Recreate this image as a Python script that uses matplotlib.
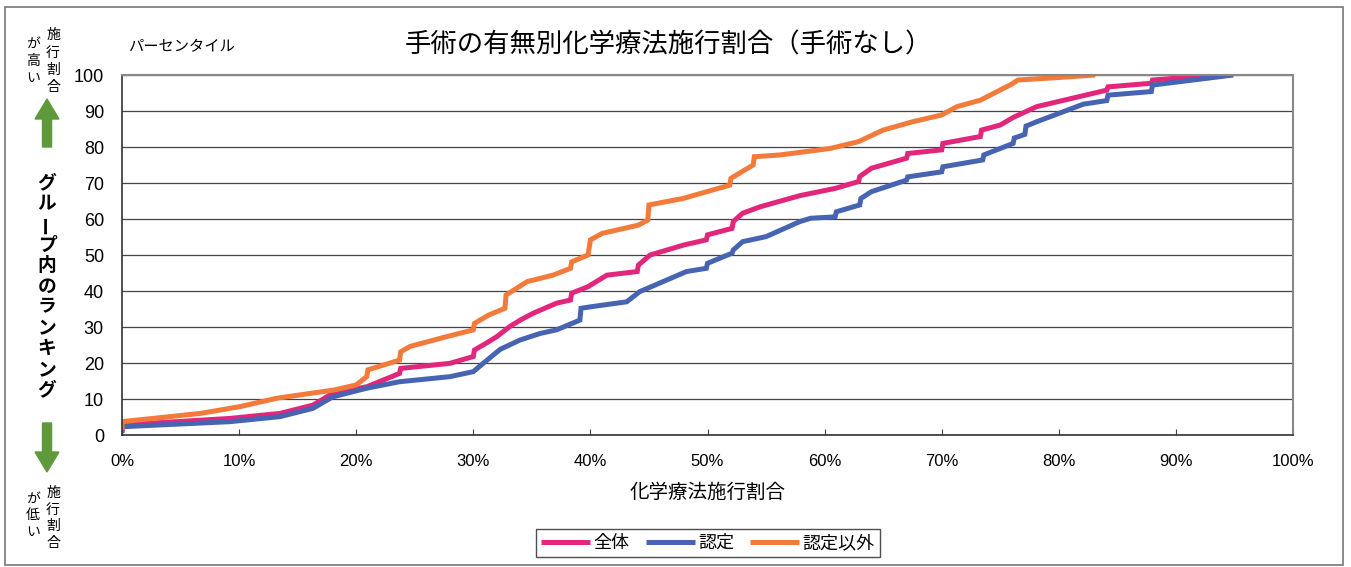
import matplotlib
matplotlib.use('Agg')
import matplotlib.pyplot as plt
from matplotlib.patches import Rectangle, FancyArrow

plt.rcParams['font.family'] = ['Noto Sans CJK JP', 'DejaVu Sans']

title = '手術の有無別化学療法施行割合（手術なし）'
xlabel = '化学療法施行割合'
series_names = ['全体', '認定', '認定以外']
colors = ['#E2267C', '#4664B2', '#F27A3A']

# 全体
all_x = [0, 0, 9.2, 13.5, 16.3, 18.0, 20.9, 23.7, 23.8, 28.0, 30.0, 30.1, 31.1, 32.0, 33.1, 34.0,
         35.1, 37.1, 38.3, 38.4, 39.8, 41.4, 44.0, 44.1, 45.1, 48.0, 49.9, 50.0, 52.1, 52.2, 53.0,
         54.5, 57.9, 60.9, 62.9, 63.0, 64.0, 67.0, 67.1, 70.0, 70.1, 73.3, 73.4, 75.0, 76.1, 77.5,
         78.1, 84.1, 84.2, 87.9, 88.0, 93.5]
all_y = [0.9, 2.8, 4.6, 6.0, 8.3, 11.6, 13.4, 17.1, 18.5, 19.9, 21.8, 23.6, 25.5, 27.3, 30.1, 31.9,
         33.8, 36.6, 37.5, 39.4, 41.2, 44.4, 45.4, 47.2, 50.0, 52.8, 54.2, 55.6, 57.4, 59.3, 61.6,
         63.4, 66.5, 68.5, 70.4, 71.8, 74.1, 76.9, 78.2, 79.2, 81.0, 82.9, 84.7, 86.1, 88.2, 90.3,
         91.2, 95.8, 96.7, 97.7, 98.6, 100]

# 認定
nin_x = [0, 0, 9.2, 13.5, 16.3, 18.0, 20.9, 23.7, 28.0, 30.0, 31.1, 32.3, 34.0, 35.7, 37.1, 39.1,
         39.2, 40.0, 43.1, 44.2, 48.2, 49.9, 50.0, 52.1, 52.2, 53.0, 55.0, 57.9, 58.8, 60.9, 61.0,
         63.0, 63.1, 64.0, 67.0, 67.1, 70.0, 70.1, 73.5, 73.6, 76.1, 76.2, 77.1, 77.2, 78.1, 82.1,
         84.1, 84.2, 87.9, 88.0, 94.9]
nin_y = [0.5, 2.3, 3.7, 5.1, 7.4, 10.6, 13.0, 14.8, 16.2, 17.6, 20.6, 23.8, 26.4, 28.2, 29.2, 31.9,
         35.2, 35.6, 37.0, 39.8, 45.4, 46.3, 47.7, 50.5, 51.4, 53.7, 55.1, 59.3, 60.2, 60.6, 62.0,
         63.9, 65.7, 67.6, 70.8, 71.7, 73.1, 74.5, 76.4, 77.8, 81.0, 82.5, 83.5, 85.8, 87.0, 91.9,
         92.9, 94.4, 95.4, 97.2, 100]

# 認定以外
oth_x = [0, 0, 6.7, 10.1, 13.2, 18.1, 20.0, 20.9, 21.0, 22.3, 23.7, 23.8, 24.6, 27.7, 30.0, 30.1,
         31.3, 32.7, 32.8, 34.6, 36.8, 38.3, 38.4, 39.8, 40.0, 41.0, 44.1, 44.9, 45.0, 47.9, 51.9,
         52.0, 53.9, 54.0, 56.2, 60.5, 62.9, 65.0, 67.5, 70.0, 71.3, 73.3, 76.0, 76.5, 80.0, 83.1]
oth_y = [1.4, 3.7, 6.0, 7.9, 10.2, 12.5, 13.9, 16.2, 18.1, 19.4, 20.8, 23.1, 24.6, 27.3, 29.2, 31.0,
         33.3, 35.2, 38.9, 42.6, 44.4, 46.3, 48.1, 50.0, 54.2, 56.0, 58.3, 59.7, 63.9, 65.7, 69.4,
         71.3, 75.0, 77.3, 77.8, 79.6, 81.5, 84.7, 87.0, 88.9, 91.2, 93.0, 97.5, 98.6, 99.3, 100]

yticks = list(range(0, 101, 10))
xticks = list(range(0, 101, 10))
xticklabels = [f'{v}%' for v in xticks]

fig = plt.figure(figsize=(13.51, 5.67), dpi=100)
ax = fig.add_axes([122 / 1351, 1 - 435 / 567, (1293 - 122) / 1351, (435 - 75) / 567])

for xs, ys, name, c in zip([all_x, nin_x, oth_x], [all_y, nin_y, oth_y], series_names, colors):
    ax.plot(xs, ys, color=c, lw=3.6, label=name, solid_joinstyle='miter', solid_capstyle='butt')

ax.set_xlim(0, 100)
ax.set_ylim(0, 100)
ax.set_yticks(yticks)
ax.set_xticks(xticks)
ax.set_xticklabels(xticklabels, family=['Liberation Sans Narrow', 'Liberation Sans', 'DejaVu Sans'], fontsize=12)
ax.set_yticklabels([str(v) for v in yticks], family=['Liberation Sans', 'DejaVu Sans'], fontsize=13)
ax.grid(axis='y', color='#444444', lw=0.9)
ax.set_axisbelow(True)
ax.tick_params(axis='y', length=0, pad=13)
ax.tick_params(axis='x', direction='in', length=4, pad=14, color='#444444')
for side in ['left', 'bottom']:
    ax.spines[side].set_color('#333333')
    ax.spines[side].set_linewidth(1.2)
for side in ['top', 'right']:
    ax.spines[side].set_color('#888888')
    ax.spines[side].set_linewidth(1.5)

fig.text(668 / 1351, 1 - 45 / 567, title, ha='center', va='center', fontsize=19)
fig.text(128 / 1351, 1 - 47 / 567, 'パーセンタイル', ha='left', va='center', fontsize=11)
fig.text(708 / 1351, 1 - 492 / 567, xlabel, ha='center', va='center', fontsize=14)

# left side vertical annotations
def vtext(chars, x, y0, step, size, weight='normal'):
    for i, ch in enumerate(chars):
        rot = 90 if ch == 'ー' else 0
        fig.text(x / 1351, 1 - (y0 + i * step) / 567, ch, ha='center', va='center',
                 fontsize=size, fontweight=weight, rotation=rot)

vtext('施行割合', 53, 35, 17.5, 10)
vtext('が高い', 33, 44, 17, 10)
vtext('グループ内のランキング', 47, 183, 20.7, 13.5, 'bold')
vtext('施行割合', 53, 493, 16.5, 10)
vtext('が低い', 33, 499, 16.5, 10)

green = '#5E9A3C'
fig.add_artist(FancyArrow(47 / 1351, 1 - 147 / 567, 0, (147 - 99) / 567, width=9 / 1351,
                          head_width=24 / 1351, head_length=20 / 567, length_includes_head=True,
                          color=green, transform=fig.transFigure))
fig.add_artist(FancyArrow(47 / 1351, 1 - 423 / 567, 0, -(472 - 423) / 567, width=9 / 1351,
                          head_width=24 / 1351, head_length=20 / 567, length_includes_head=True,
                          color=green, transform=fig.transFigure))

leg = fig.legend(loc='center', bbox_to_anchor=(708 / 1351, 1 - 543 / 567), ncol=3, fontsize=13,
                 frameon=True, fancybox=False, edgecolor='#222222', handlelength=2.7,
                 handletextpad=0.2, columnspacing=0.9, borderpad=0.3)
leg.get_frame().set_linewidth(1.0)

fig.add_artist(Rectangle((5 / 1351, 0.003), 1338 / 1351, 1 - 7 / 567 - 0.003, fill=False,
                         edgecolor='#777777', lw=1.2, transform=fig.transFigure))

fig.savefig('out.png', dpi=100)
